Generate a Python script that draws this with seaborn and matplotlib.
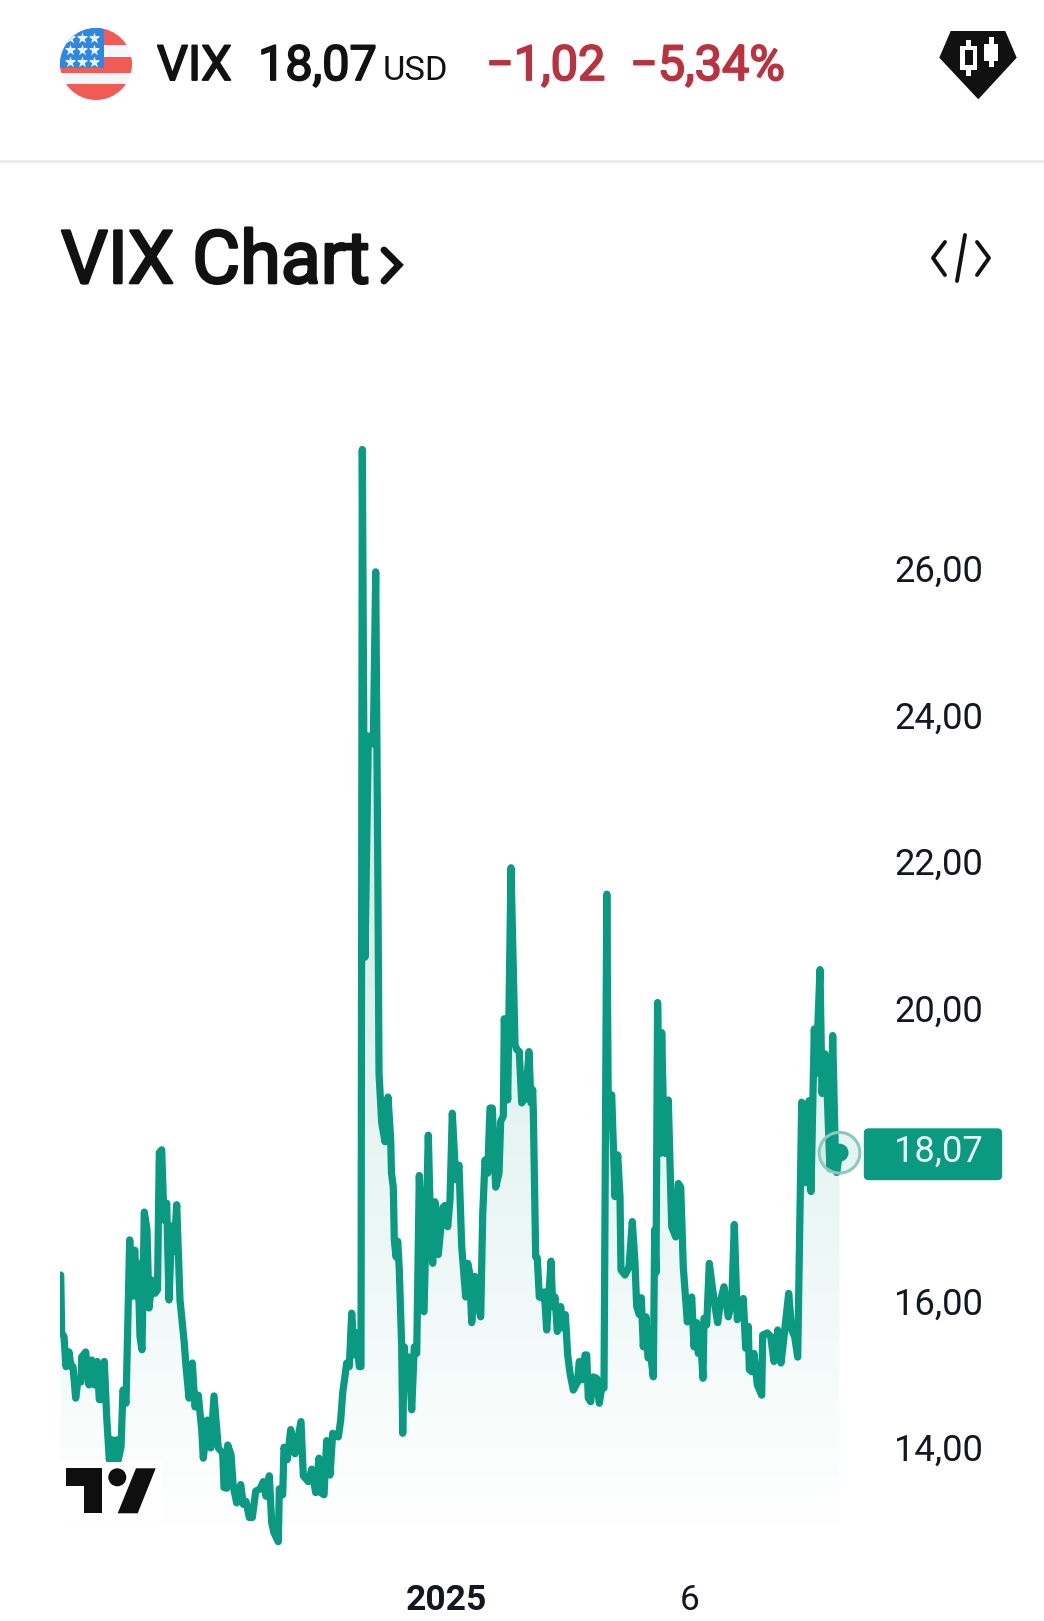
import numpy as np
import matplotlib
matplotlib.use("Agg")
import matplotlib.pyplot as plt
import matplotlib.patheffects as pe
from matplotlib.patches import Circle, FancyBboxPatch, Polygon, Rectangle
import seaborn as sns

# bar position along the time axis and the VIX value
bars = [
    0.7, 1.7, 4, 6, 9, 11, 13, 15.7, 18, 21,
    21.7, 25.7, 29, 31.7, 34.3, 37.3, 39.3, 41.7, 44.3, 46.7,
    49.3, 52.3, 54.3, 56.7, 58.3, 61, 63, 66, 69.7, 72.3,
    74.7, 77.3, 78, 80, 82, 84.3, 87, 89, 92, 95,
    97.5, 99.3, 101.7, 104, 106.7, 109, 111.7, 114, 116.7, 120,
    124.3, 125.7, 129, 132.3, 135, 138.3, 141.7, 143.3, 147.3, 150.7,
    154, 158.3, 162.7, 164, 166.7, 167.7, 171, 173.3, 176.7, 180.7,
    183.3, 186, 189.3, 192.3, 195.7, 200, 203.3, 206, 209.3, 211.7,
    214, 218.3, 219.3, 222.7, 224, 227.3, 230.7, 235, 241, 243.3,
    248.3, 251.7, 255.7, 259, 260.7, 264, 266.7, 270, 272.7, 278.3,
    280.7, 282.7, 286.7, 289.3, 291.7, 294.3, 296, 299.3, 301, 302.3,
    305, 308.3, 313.3, 315.7, 318, 319, 321.7, 325, 328, 330.7,
    331.5, 333.3, 334.3, 336, 337.7, 339.3, 341.7, 342.7, 344.3, 346.7,
    349, 351.7, 354.3, 356.7, 359.3, 364, 368.3, 370.7, 372.7, 375,
    378.3, 382.7, 385, 387.7, 390, 392.3, 395.7, 399, 401.7, 405.7,
    407.7, 409.7, 411.7, 415, 416.7, 420.7, 422.7, 425, 427.7, 430,
    432.3, 435.7, 439, 440.7, 443.3, 444.3, 447.7, 451, 455, 456.7,
    459.3, 461.7, 465.7, 469, 471, 472.7, 473.3, 475.7, 477.3, 479.3,
    481.7, 484.3, 486.7, 489, 491, 492.7, 495, 497.3, 500.7, 502.7,
    505.3, 507.7, 510, 513.3, 517.3, 519.3, 522.3, 525, 526.7, 528.3,
    530.7, 533.3, 536.7, 539.3, 541.7, 544, 546.8, 548.3, 551.7, 555,
    557.7, 560, 561, 565, 569, 572.3, 575, 576.7, 579.3, 581.3,
    583.3, 586, 588, 590.7, 593.3, 594.7, 596, 597.6, 600, 601.7,
    603.3, 605.3, 608.3, 611.7, 615.7, 618.3, 620.7, 623.3, 627.3, 631.7,
    634, 636.7, 638.3, 640.7, 643, 644, 646.7, 649.3, 652.3, 655,
    657.7, 660.7, 664, 668.3, 671.7, 674.3, 677.3, 680, 683.3, 685.7,
    688.3, 689.3, 691.7, 694, 697.3, 701.7, 702.7, 707.3, 710.7, 714,
    717.7, 721, 724, 728.7, 731.7, 734.7, 737.7, 741.7, 745.7, 749,
    751, 754.3, 756, 760, 762, 765, 767, 770, 772.7, 775.5,
    776.7, 779.5,
]
vix = [
    16.35, 15.56, 15.51, 15.10, 15.30, 15.10, 15.10, 14.67, 14.92, 14.89,
    15.23, 15.30, 14.85, 15.19, 14.85, 15.17, 14.65, 14.65, 15.17, 14.41,
    13.83, 14.10, 13.83, 14.10, 13.83, 14.00, 14.78, 14.60, 16.83, 16.06,
    16.69, 16.05, 16.51, 15.51, 15.33, 17.21, 16.97, 15.90, 16.28, 16.10,
    16.15, 18.02, 18.06, 17.10, 17.33, 16.01, 17.02, 16.67, 17.31, 16.01,
    15.42, 15.15, 14.67, 15.15, 14.55, 14.71, 14.24, 13.85, 14.37, 13.99,
    14.70, 13.99, 13.92, 13.45, 13.44, 14.03, 13.90, 13.46, 13.24, 13.49,
    13.22, 13.26, 13.04, 13.04, 13.40, 13.43, 13.53, 13.33, 13.61, 12.97,
    12.83, 12.71, 13.43, 13.35, 14.00, 13.83, 14.24, 13.91, 14.35, 13.61,
    13.53, 13.70, 13.38, 13.85, 13.38, 13.35, 14.09, 13.62, 14.19, 14.14,
    14.37, 14.74, 15.15, 15.10, 15.83, 15.26, 15.56, 15.10, 15.10, 27.62,
    20.69, 23.71, 23.60, 25.95, 21.50, 19.11, 18.43, 18.17, 18.78, 18.20,
    17.74, 17.55, 16.83, 16.60, 16.81, 16.42, 15.37, 14.19, 15.37, 14.88,
    15.23, 14.51, 15.37, 15.28, 17.71, 15.85, 18.26, 16.92, 16.51, 17.35,
    16.63, 17.27, 17.30, 17.01, 17.38, 18.56, 17.65, 17.85, 16.74, 16.05,
    16.51, 16.38, 15.70, 16.33, 16.01, 15.78, 17.17, 17.92, 17.74, 18.63,
    18.63, 17.55, 17.74, 18.45, 18.52, 19.85, 18.74, 21.91, 19.50, 19.43,
    19.40, 18.70, 18.77, 19.40, 18.70, 18.88, 18.60, 16.60, 16.58, 16.05,
    16.04, 16.12, 15.60, 16.10, 16.54, 15.92, 16.05, 15.58, 15.92, 15.63,
    15.81, 15.26, 15.01, 14.78, 14.88, 15.17, 14.92, 15.26, 15.26, 14.67,
    14.62, 14.96, 14.94, 14.60, 14.81, 14.81, 21.55, 18.58, 18.81, 17.42,
    17.99, 17.42, 16.42, 16.35, 16.46, 17.08, 16.51, 15.92, 15.81, 16.04,
    15.37, 15.78, 15.22, 15.26, 14.96, 16.97, 16.38, 20.07, 18.01, 19.66,
    18.65, 18.01, 18.74, 17.01, 16.87, 17.60, 17.55, 16.46, 15.71, 16.05,
    15.37, 15.70, 15.28, 15.46, 14.94, 15.76, 15.67, 16.51, 16.19, 15.92,
    15.70, 16.01, 16.19, 15.78, 15.97, 17.04, 15.74, 15.85, 16.03, 15.35,
    15.65, 15.06, 15.03, 15.28, 14.85, 14.71, 15.53, 15.56, 15.51, 15.17,
    15.60, 15.15, 15.51, 16.10, 15.60, 15.51, 15.23, 18.71, 17.61, 18.73,
    17.49, 19.71, 19.10, 20.52, 18.83, 19.37, 18.90, 17.80, 19.62, 17.90,
    17.75, 18.02,
]
price_ticks = [14, 16, 20, 22, 24, 26]
price_labels = ["14,00", "16,00", "20,00", "22,00", "24,00", "26,00"]
time_ticks = [386.6, 629.5]
time_labels = ["2025", "6"]

GREEN = "#0a9981"
RED = "#b8323f"
W, H = 1044, 1621

sns.set_theme(style="white")
plt.rcParams["font.family"] = ["Roboto", "DejaVu Sans"]

fig = plt.figure(figsize=(W / 100, H / 100), dpi=100, facecolor="white")

# chart
ax = fig.add_axes([60 / W, 1 - 1560 / H, 820 / W, 1120 / H])
ax.set_facecolor("none")
sns.lineplot(x=bars, y=vix, ax=ax, color=GREEN, linewidth=5.2, estimator=None, zorder=3)
ax.lines[0].set_solid_joinstyle("round")
ax.lines[0].set_solid_capstyle("round")

ymin, ymax = 12.46, 27.75

# area under the line fades out towards the bottom
fill = ax.fill_between(bars, vix, ymin, color="none", lw=0)
fade = np.zeros((256, 2, 4))
fade[..., :3] = matplotlib.colors.to_rgb(GREEN)
fade[..., 3] = np.linspace(0.28, 0.0, 256)[:, None]
img = ax.imshow(fade, extent=[bars[0], bars[-1], 12.7, ymax], origin="upper", aspect="auto", zorder=1)
img.set_clip_path(fill.get_paths()[0], ax.transData)
ax.set_xlim(0, 820)
ax.set_ylim(ymin, ymax)

ax.yaxis.tick_right()
ax.set_yticks(price_ticks, price_labels)
ax.set_xticks(time_ticks, time_labels)
ax.tick_params(axis="y", length=0, pad=10, labelsize=26.2, labelcolor="#131722")
ax.tick_params(axis="x", length=0, pad=17, labelsize=25.5, labelcolor="#131722")
ax.get_xticklabels()[0].set_fontweight("bold")
sns.despine(ax=ax, left=True, bottom=True, right=True, top=True)

# last price marker
ax.scatter([bars[-1]], [vix[-1]], s=860, facecolor=GREEN, alpha=0.1, edgecolor="none", zorder=4)
ax.scatter([bars[-1]], [vix[-1]], s=860, facecolor="none", edgecolor="#8cc8bb", linewidth=2.2, zorder=4)
ax.scatter([bars[-1]], [vix[-1]], s=170, color=GREEN, edgecolor="none", zorder=5)

# everything around the chart is placed in pixels
top = fig.add_axes([0, 0, 1, 1], zorder=5)
top.set_xlim(0, W)
top.set_ylim(H, 0)
top.axis("off")
top.patch.set_alpha(0)

top.add_patch(FancyBboxPatch((868, 1132.5), 130, 43.5, boxstyle="round,pad=0,rounding_size=0", fc=GREEN, ec=GREEN, lw=6, joinstyle="round"))
top.text(938.5, 1152, "18,07", color="#eaf7f4", fontsize=26.2, ha="center", va="center")

# tradingview watermark
top.add_patch(Rectangle((60, 1462), 102, 60, fc="white", ec="none"))
top.add_patch(Polygon([(66, 1468.3), (102.3, 1468.3), (102.3, 1513.3), (84, 1513.3), (84, 1485.7), (66, 1485.7)], fc="#0f0f0f", ec="none"))
top.add_patch(Circle((117.3, 1477.3), 9, fc="#0f0f0f", ec="none"))
top.add_patch(Polygon([(136, 1468.3), (155.7, 1468.3), (137.7, 1513.3), (117.7, 1513.3)], fc="#0f0f0f", ec="none"))

# header flag
clip = Circle((96, 64), 36, transform=top.transData)
stripes = [(28, 44.5, "#f25a54"), (44.5, 56.5, "#f3f7fb"), (56.5, 72.5, "#f25a54"), (72.5, 84, "#f3f7fb"), (84, 100, "#f25a54")]
for y0, y1, c in stripes:
    top.add_patch(Rectangle((58, y0), 76, y1 - y0, fc=c, ec="none", clip_path=clip))
top.add_patch(Rectangle((58, 28), 46, 40, fc="#2f86e3", ec="none", clip_path=clip))
star_x = [70, 81.7, 94] * 3
star_y = [37.7] * 3 + [50] * 3 + [62] * 3
top.scatter(star_x, star_y, marker="*", s=75, color="#eef6ff", linewidth=0, clip_path=clip)

bold = [pe.withStroke(linewidth=1.3, foreground="#111111")]
red_bold = [pe.withStroke(linewidth=1.3, foreground=RED)]
top.text(157, 80, "VIX", color="#111111", fontsize=35, va="baseline", path_effects=bold)
top.text(258, 80, "18,07", color="#111111", fontsize=35, va="baseline", path_effects=bold)
top.text(383, 80, "USD", color="#111111", fontsize=24.8, va="baseline")
top.text(486, 80, "\u22121,02", color=RED, fontsize=35, va="baseline", path_effects=red_bold)
top.text(630, 80, "\u22125,34%", color=RED, fontsize=35, va="baseline", path_effects=red_bold)

# badge in the corner
top.add_patch(Polygon([(950.7, 31), (1005.3, 31), (1016.7, 57.7), (978.3, 99.3), (939.3, 57.7)], fc="#111111", ec="none"))
top.add_patch(Rectangle((960, 46), 17, 23.5, fc="white", ec="none"))
top.add_patch(Rectangle((966, 40), 5, 36, fc="white", ec="none"))
top.add_patch(Rectangle((964.5, 50), 8, 15, fc="#111111", ec="none"))
top.add_patch(Rectangle((984, 43.5), 14, 17.5, fc="white", ec="none"))
top.add_patch(Rectangle((988.5, 37), 5, 30, fc="white", ec="none"))

top.plot([0, W], [161, 161], color="#ebebeb", lw=2.2)

top.text(61, 283, "VIX Chart", color="#111111", fontsize=53, va="baseline", path_effects=[pe.withStroke(linewidth=1.9, foreground="#111111")])
top.plot([384, 399, 384], [250, 265, 281], color="#111111", lw=5, solid_joinstyle="miter")

# embed icon
top.plot([945, 933, 945], [242, 258, 275], color="#111111", lw=2.8)
top.plot([977, 989, 977], [242, 258, 275], color="#111111", lw=2.8)
top.plot([957, 965], [281, 235], color="#111111", lw=2.8)

fig.savefig("out.png", dpi=100)
